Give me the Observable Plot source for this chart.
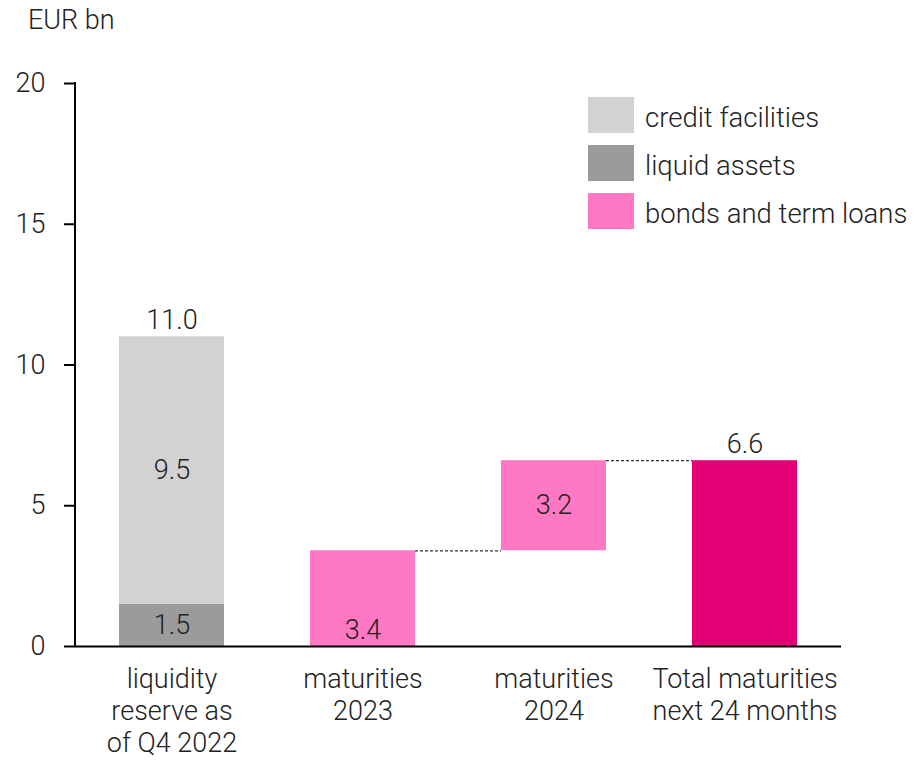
<!DOCTYPE html>
<html>
<head>
<meta charset="utf-8">
<script src="https://cdn.jsdelivr.net/npm/d3@7"></script>
<script src="https://cdn.jsdelivr.net/npm/@observablehq/plot@0.6"></script>
<style>
  html, body { margin: 0; padding: 0; background: #fff; }
  #wrap { position: relative; width: 915px; font-family: Roboto, "Liberation Sans", sans-serif; font-weight: 300; color: #222; }
  #unit { height: 44px; line-height: 40px; padding-left: 28px; font-size: 27px; }
  #legend { position: absolute; left: 588px; top: 97px; font-size: 27.5px; }
  .row { display: flex; align-items: center; height: 36px; margin-bottom: 12px; }
  .row span { position: relative; top: 2px; }
  .sw { width: 46px; height: 36px; margin-right: 11px; }
  svg text { font-weight: 300; }
</style>
</head>
<body>
<div id="wrap">
  <div id="unit">EUR bn</div>
  <div id="chart"></div>
  <div id="legend"></div>
</div>
<script>
// ---- data ----
const categories = ["liquidity\nreserve as\nof Q4 2022", "maturities\n2023", "maturities\n2024", "Total maturities\nnext 24 months"];
const seriesNames = ["credit facilities", "liquid assets", "bonds and term loans", "total maturities"];
const seriesColors = ["#d2d2d2", "#9b9b9b", "#ff78c4", "#e20074"];
const legendSeries = ["credit facilities", "liquid assets", "bonds and term loans"];
const liquidAssets = 1.5;
const creditFacilities = 9.5;
const liquidityTotal = 11.0;
const maturities = [3.4, 3.2];     // 2023, 2024
const totalMaturities = 6.6;
const yTicks = [0, 5, 10, 15, 20];

// ---- build segments ----
const segments = [
  {cat: categories[0], series: "liquid assets", y1: 0, y2: liquidAssets, label: liquidAssets.toFixed(1), place: "mid"},
  {cat: categories[0], series: "credit facilities", y1: liquidAssets, y2: liquidAssets + creditFacilities, label: creditFacilities.toFixed(1), place: "mid"},
  {cat: categories[1], series: "bonds and term loans", y1: 0, y2: maturities[0], label: maturities[0].toFixed(1), place: "base"},
  {cat: categories[2], series: "bonds and term loans", y1: maturities[0], y2: maturities[0] + maturities[1], label: maturities[1].toFixed(1), place: "mid"},
  {cat: categories[3], series: "total maturities", y1: 0, y2: totalMaturities, label: null, place: null}
];
const totals = [
  {cat: categories[0], value: liquidityTotal},
  {cat: categories[3], value: totalMaturities}
];
const connectors = [
  {from: categories[1], to: categories[2], y: maturities[0]},
  {from: categories[2], to: categories[3], y: maturities[0] + maturities[1]}
];

const font = "Roboto, 'Liberation Sans', sans-serif";
const fs = 27;

const connectorMark = (index, scales) => {
  const x = scales.x, y = scales.y;
  const bw = x.bandwidth ? x.bandwidth() : 0;
  const g = d3.create("svg:g");
  g.selectAll("line").data(connectors).join("line")
    .attr("x1", d => x(d.from) + bw)
    .attr("x2", d => x(d.to))
    .attr("y1", d => y(d.y) + 0.5)
    .attr("y2", d => y(d.y) + 0.5)
    .attr("stroke", "#333")
    .attr("stroke-width", 1.2)
    .attr("stroke-dasharray", "3,2");
  return g.node();
};

// y-axis line along the left edge of the frame
const yAxisLine = (index, scales, values, dims) => {
  const y = scales.y;
  const [d0, d1] = y.domain();
  const g = d3.create("svg:g");
  g.append("line")
    .attr("x1", dims.marginLeft).attr("x2", dims.marginLeft)
    .attr("y1", y(d0) + 1).attr("y2", y(d1) - 1)
    .attr("stroke", "#000").attr("stroke-width", 2);
  return g.node();
};

const chart = Plot.plot({
  width: 915,
  height: 720,
  marginTop: 39,
  marginBottom: 118,
  marginLeft: 75,
  marginRight: 74,
  style: {fontFamily: font, fontSize: fs + "px", color: "#222", background: "#fff"},
  x: {domain: categories, paddingInner: 0.45, paddingOuter: 0.225, label: null},
  y: {domain: [0, 20], label: null},
  color: {domain: seriesNames, range: seriesColors},
  marks: [
    Plot.rectY(segments, {x: "cat", y1: "y1", y2: "y2", fill: "series"}),
    connectorMark,
    Plot.text(segments.filter(d => d.place === "mid"), {x: "cat", y: d => (d.y1 + d.y2) / 2, text: "label", fill: "#222", fontSize: fs}),
    Plot.text(segments.filter(d => d.place === "base"), {x: "cat", y: "y1", text: "label", fill: "#222", fontSize: fs, dy: -16}),
    Plot.text(totals, {x: "cat", y: "value", text: d => d.value.toFixed(1), fill: "#222", fontSize: fs, lineAnchor: "bottom", dy: -8}),
    Plot.ruleY([0], {stroke: "#000", strokeWidth: 2}),
    yAxisLine,
    Plot.axisY({ticks: yTicks, tickSize: 11, tickPadding: 19, stroke: "#000", strokeWidth: 2, fontSize: fs, label: null, tickFormat: d => String(d)}),
    Plot.axisX({tickSize: 0, tickPadding: 18, fontSize: fs, lineHeight: 1.2, label: null})
  ]
});
document.getElementById("chart").appendChild(chart);

// legend
const legend = d3.select("#legend");
legendSeries.forEach(s => {
  const row = legend.append("div").attr("class", "row");
  row.append("div").attr("class", "sw").style("background", seriesColors[seriesNames.indexOf(s)]);
  row.append("span").text(s);
});
</script>
</body>
</html>
